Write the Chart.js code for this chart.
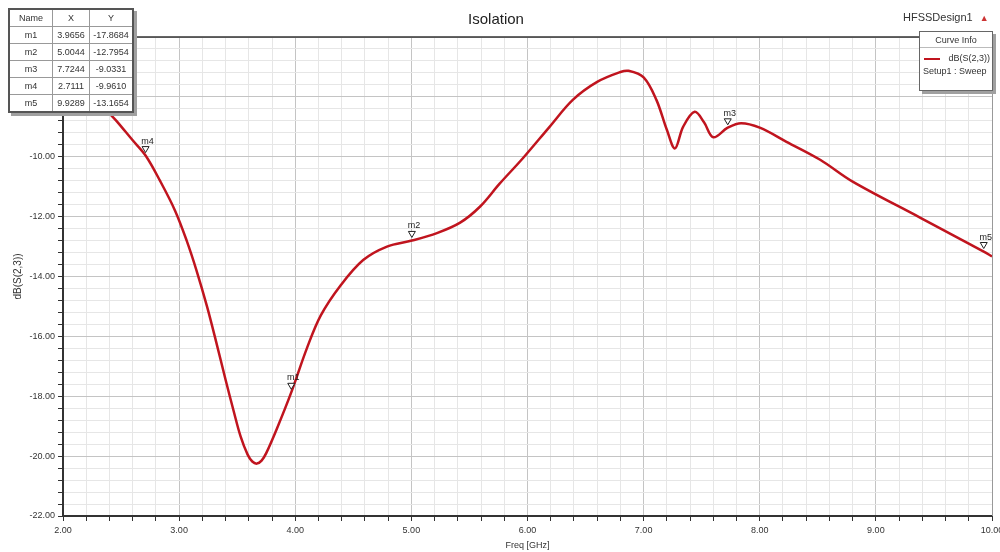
<!DOCTYPE html>
<html>
<head>
<meta charset="utf-8">
<script src="https://cdn.jsdelivr.net/npm/chart.js@4.4.1/dist/chart.umd.min.js"></script>
<style>
  body { margin: 0; background: #fff; font-family: "Liberation Sans", Arial, sans-serif; }
  #wrap { position: relative; width: 1000px; height: 552px; overflow: hidden; }
  #markers {
    position: absolute; left: 8px; top: 8px; border-collapse: collapse;
    background: #fff; font-size: 9px; color: #333; border: 2px solid #555;
    box-shadow: 3px 3px 0 #a0a0a0;
  }
  #markers td { border: 1px solid #999; height: 16px; padding: 0 3px; text-align: center; }
  #info {
    position: absolute; left: 919px; top: 31px; width: 72px; height: 58px;
    border: 1px solid #666; background: #fff; box-shadow: 3px 3px 0 #a0a0a0;
    font-size: 9px; color: #333;
  }
  #design { position: absolute; left: 903px; top: 11px; font-size: 11px; color: #333; }
</style>
</head>
<body>
<div id="wrap">
  <canvas id="c" width="1000" height="552"></canvas>
  <table id="markers"></table>
  <div id="design">HFSSDesign1 <span style="color:#c33;font-size:9px;margin-left:4px">&#9650;</span></div>
  <div id="info">
    <div style="text-align:center;padding-top:3px;height:12px;border-bottom:1px solid #bbb">Curve Info</div>
    <div style="position:relative;height:14px;margin-top:4px">
      <span style="position:absolute;left:4px;top:6px;width:16px;border-top:2px solid #c0141e"></span>
      <span style="position:absolute;right:2px;top:1px">dB(S(2,3))</span>
    </div>
    <div style="padding-left:3px">Setup1 : Sweep</div>
  </div>
</div>
<script>
// S(2,3) trace
const freq = [2.0, 2.2, 2.4, 2.46, 2.6, 2.7111, 2.835, 2.965, 3.065, 3.15, 3.24, 3.32, 3.40, 3.47, 3.53, 3.59,
  3.63, 3.67, 3.71, 3.75, 3.84, 3.9656, 4.10, 4.22, 4.39, 4.585, 4.79, 5.0044, 5.22, 5.42, 5.59, 5.76, 5.96, 6.19,
  6.39, 6.60, 6.80, 6.87, 7.0, 7.11, 7.20, 7.27, 7.34, 7.44, 7.52, 7.60, 7.7244, 7.84, 8.0, 8.23,
  8.52, 8.80, 9.38, 9.9289, 10.0];
const s23 = [-6.9, -7.7, -8.55, -8.8, -9.45, -9.96, -10.8, -11.8, -12.8, -13.8, -15.0, -16.2, -17.45, -18.5, -19.35, -19.95,
  -20.18, -20.25, -20.15, -19.9, -19.1, -17.87, -16.4, -15.3, -14.3, -13.45, -13.0, -12.8, -12.55, -12.2, -11.67, -10.9, -10.05, -9.0,
  -8.1, -7.5, -7.17, -7.13, -7.35, -8.1, -9.1, -9.72, -9.0, -8.5, -8.85, -9.35, -9.03, -8.88, -9.03, -9.5,
  -10.1, -10.83, -12.03, -13.17, -13.33];

// marker table
const markerNames = ["m1", "m2", "m3", "m4", "m5"];
const markerX = [3.9656, 5.0044, 7.7244, 2.7111, 9.9289];
const markerY = [-17.8684, -12.7954, -9.0331, -9.9610, -13.1654];

const xMin = 2, xMax = 10, xStep = 0.2;
const yMin = -22, yMax = -6, yStep = 0.4;

// fill the marker table
const tbl = document.getElementById("markers");
let rows = '<tr><td style="width:36px">Name</td><td style="width:30px">X</td><td style="width:36px">Y</td></tr>';
markerNames.forEach((n, i) => {
  rows += `<tr><td>${n}</td><td>${markerX[i].toFixed(4)}</td><td>${markerY[i].toFixed(4)}</td></tr>`;
});
tbl.innerHTML = rows;

function isMajor(v, step) {
  return Math.abs(v / step - Math.round(v / step)) < 1e-6;
}

// inverted triangle markers with their names
const markerPlugin = {
  id: "markers",
  afterDatasetsDraw(chart) {
    const { ctx, scales: { x, y } } = chart;
    ctx.save();
    markerNames.forEach((n, i) => {
      const px = x.getPixelForValue(markerX[i]);
      const py = y.getPixelForValue(markerY[i]) - 6;
      ctx.beginPath();
      ctx.moveTo(px - 3.5, py - 3);
      ctx.lineTo(px + 3.5, py - 3);
      ctx.lineTo(px, py + 3);
      ctx.closePath();
      ctx.fillStyle = "#fff";
      ctx.fill();
      ctx.strokeStyle = "#222";
      ctx.lineWidth = 1;
      ctx.stroke();
      ctx.fillStyle = "#222";
      ctx.font = "9px 'Liberation Sans', Arial";
      ctx.textAlign = "center";
      ctx.fillText(n, px + 2, py - 6);
    });
    ctx.restore();
  }
};

// top and right frame of the plot box
const framePlugin = {
  id: "frame",
  beforeDatasetsDraw(chart) {
    const { ctx, chartArea: a } = chart;
    ctx.save();
    ctx.strokeStyle = "#333";
    ctx.lineWidth = 1.5;
    ctx.beginPath();
    ctx.moveTo(a.left, a.top);
    ctx.lineTo(a.right, a.top);
    ctx.stroke();
    ctx.strokeStyle = "#999";
    ctx.lineWidth = 1;
    ctx.beginPath();
    ctx.moveTo(a.right + 0.5, a.top);
    ctx.lineTo(a.right + 0.5, a.bottom);
    ctx.stroke();
    ctx.restore();
  }
};

new Chart(document.getElementById("c"), {
  type: "scatter",
  data: {
    datasets: [{
      label: "dB(S(2,3))",
      data: freq.map((f, i) => ({ x: f, y: s23[i] })),
      showLine: true,
      borderColor: "#c0141e",
      borderWidth: 2.5,
      pointRadius: 0,
      tension: 0.35
    }]
  },
  options: {
    responsive: false,
    animation: false,
    layout: { padding: { left: 0, top: 0, right: 8, bottom: 0 } },
    plugins: {
      legend: { display: false },
      tooltip: { enabled: false },
      title: {
        display: true, text: "Isolation", color: "#222",
        font: { family: "'Liberation Sans', Arial", size: 15, weight: "normal" },
        padding: { top: 11, bottom: 8 }
      }
    },
    scales: {
      x: {
        type: "linear", min: xMin, max: xMax,
        afterFit(s) { s.height = 36; s.paddingLeft = 0; s.paddingRight = 0; },
        ticks: {
          stepSize: xStep, autoSkip: false, maxRotation: 0, padding: 4,
          color: "#333", font: { family: "'Liberation Sans', Arial", size: 9 },
          callback: v => isMajor(v, 1) ? v.toFixed(2) : ""
        },
        grid: {
          color: c => isMajor(c.tick.value, 1) ? "#c4c4c4" : "#e6e6e6",
          tickColor: "#333", tickLength: 5
        },
        border: { color: "#333", width: 2 },
        title: {
          display: true, text: "Freq [GHz]", color: "#333",
          font: { family: "'Liberation Sans', Arial", size: 9 },
          padding: { top: 0, bottom: 1 }
        }
      },
      y: {
        type: "linear", min: yMin, max: yMax,
        afterFit(s) { s.width = 63; },
        ticks: {
          stepSize: yStep, autoSkip: false, maxTicksLimit: 100, padding: 3,
          color: "#333", font: { family: "'Liberation Sans', Arial", size: 9 },
          callback: v => isMajor(v, 2) ? v.toFixed(2) : ""
        },
        grid: {
          color: c => isMajor(c.tick.value, 2) ? "#c4c4c4" : "#e6e6e6",
          tickColor: "#333", tickLength: 5
        },
        border: { color: "#333", width: 2 },
        title: {
          display: true, text: "dB(S(2,3))", color: "#333",
          font: { family: "'Liberation Sans', Arial", size: 10 },
          padding: { top: 12, bottom: 0 }
        }
      }
    }
  },
  plugins: [framePlugin, markerPlugin]
});
</script>
</body>
</html>
